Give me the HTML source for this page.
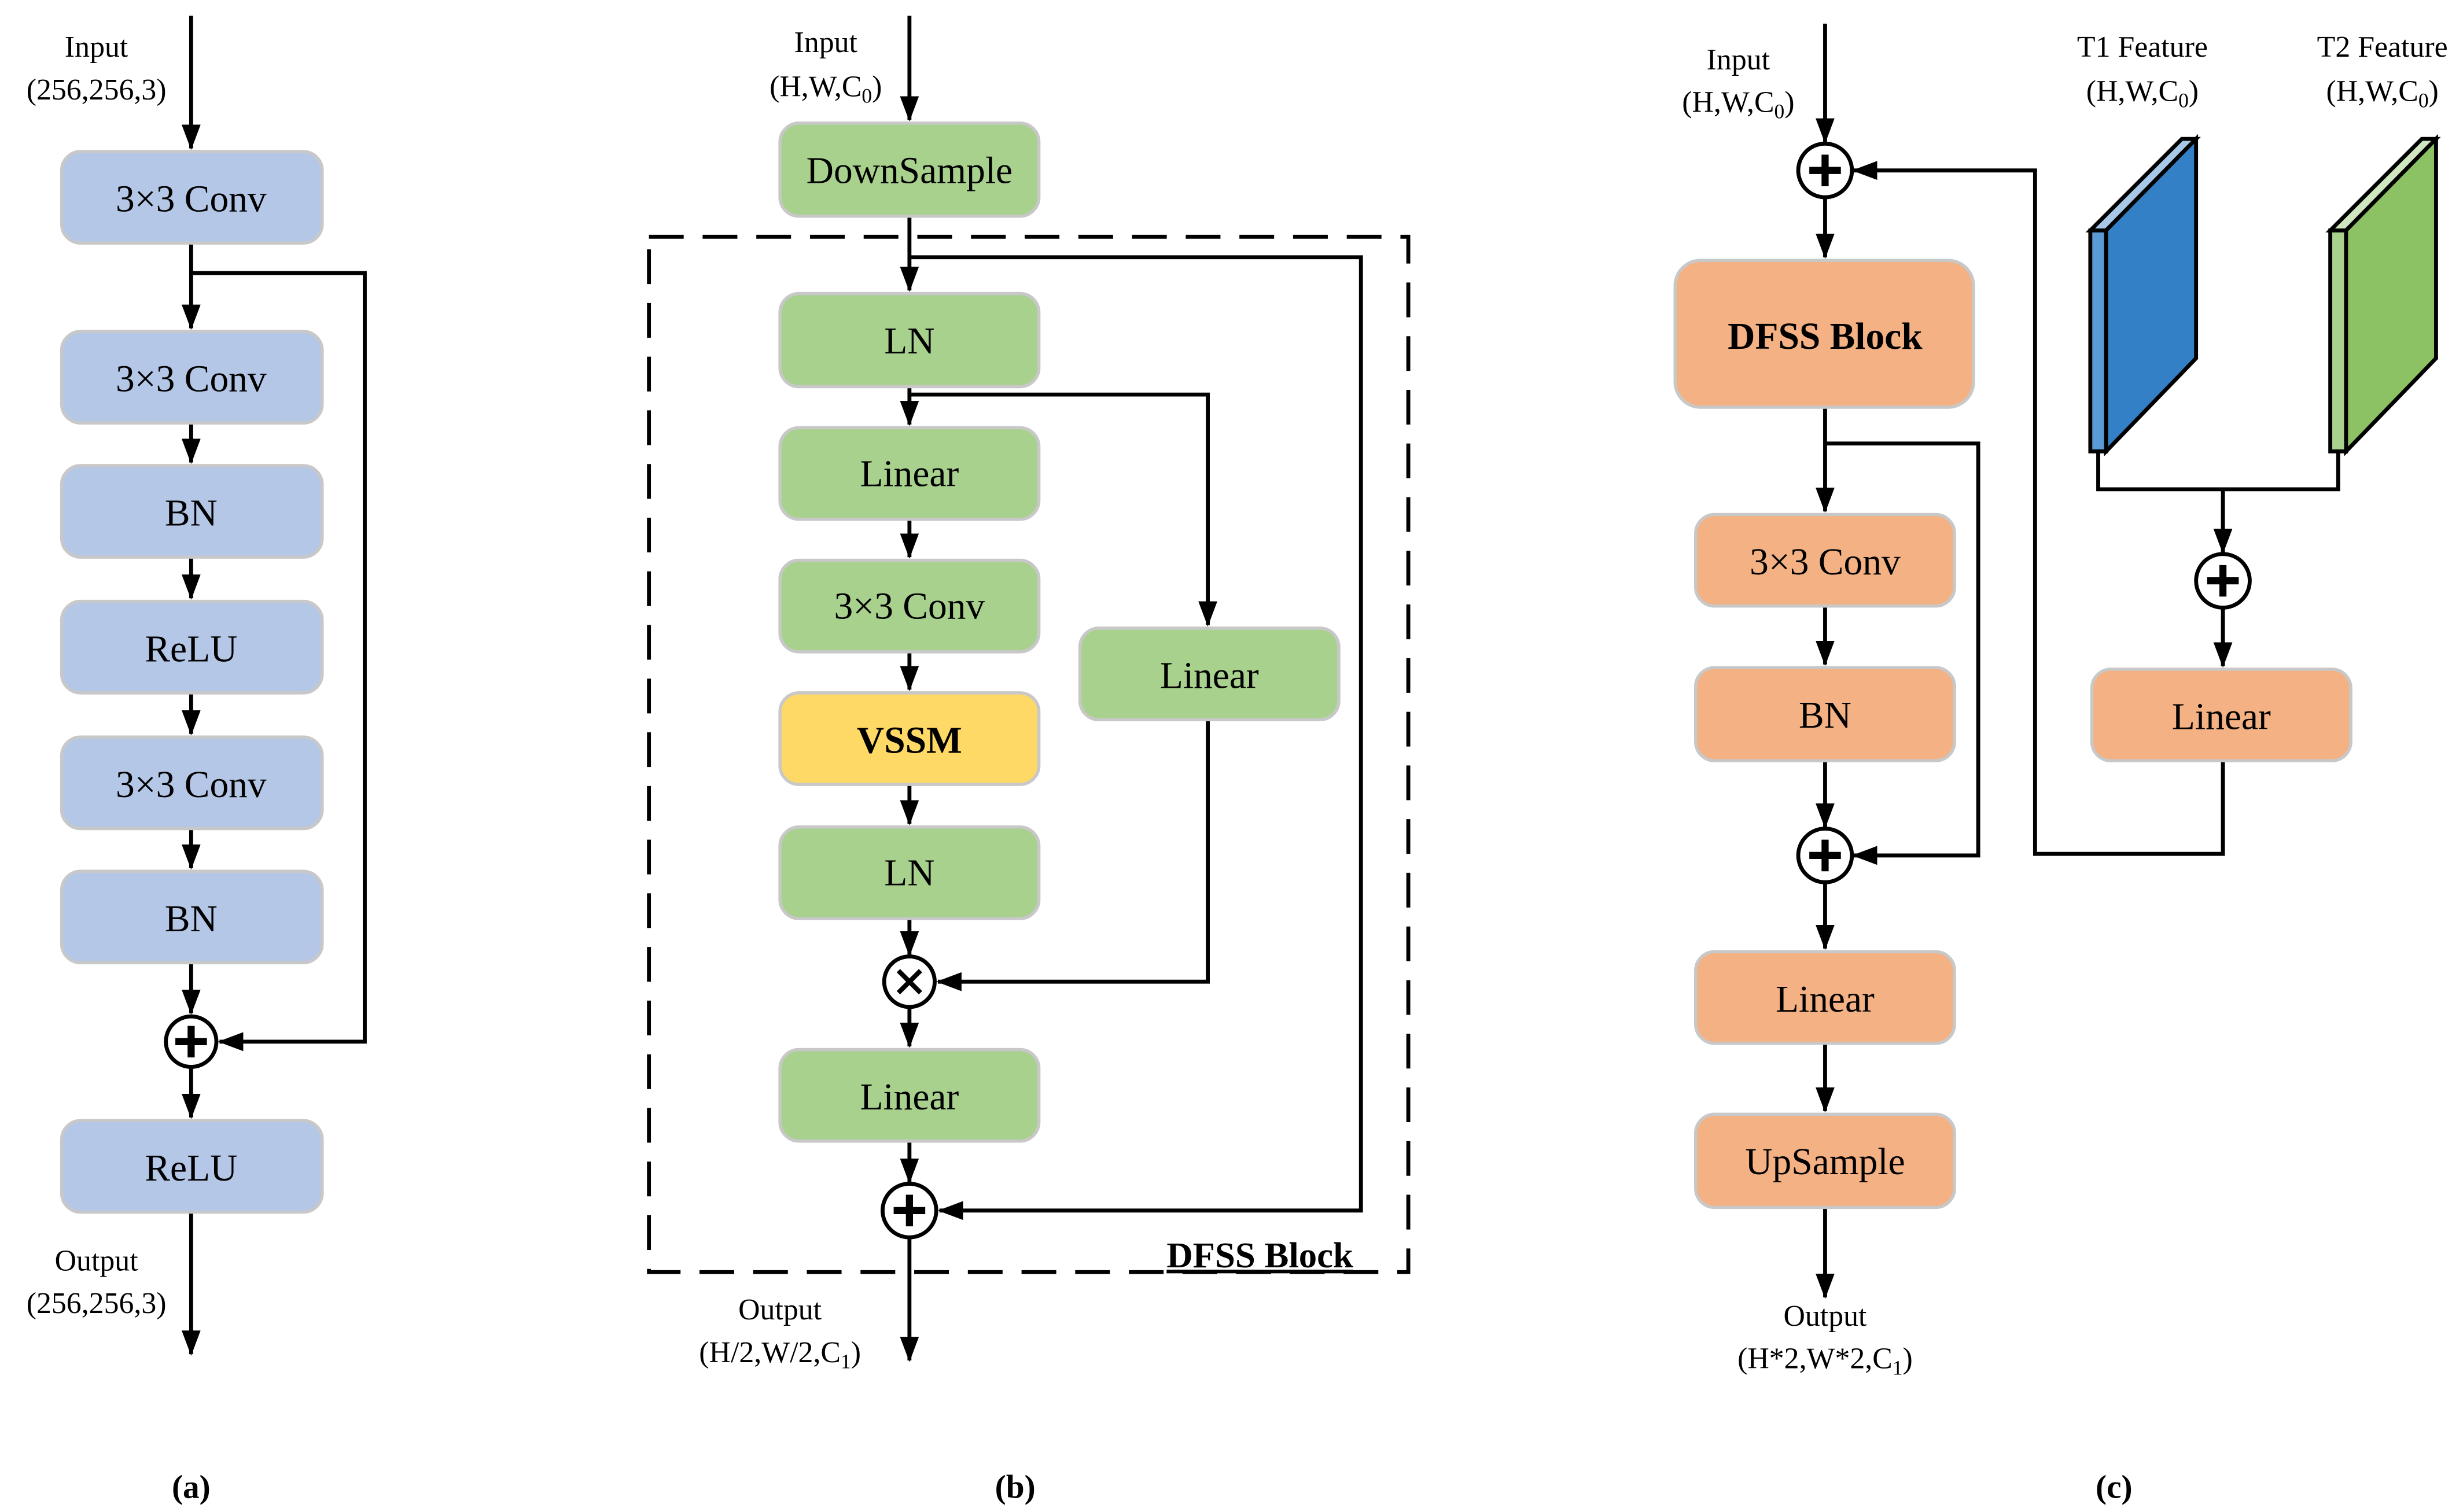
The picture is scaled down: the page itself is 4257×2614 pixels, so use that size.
<!DOCTYPE html>
<html><head><meta charset="utf-8"><style>
html,body{margin:0;padding:0;background:#fff;}
svg{display:block;}
svg text, svg tspan{font-family:"Liberation Serif","Times New Roman",serif !important;}
</style></head><body>
<svg width="4257" height="2614" viewBox="0 0 1560 958" xmlns="http://www.w3.org/2000/svg" font-family="Liberation Serif, serif">
<defs>
<marker id="a" markerWidth="16" markerHeight="12" refX="15" refY="6" orient="auto" markerUnits="userSpaceOnUse">
<path d="M0,0 L16,6 L0,12 Z" fill="#000"/></marker>
</defs>
<g stroke="#000" stroke-width="2.5" fill="none">
<line x1="121" y1="10" x2="121" y2="94" marker-end="url(#a)"/>
<line x1="121" y1="154" x2="121" y2="208" marker-end="url(#a)"/>
<line x1="121" y1="268" x2="121" y2="293" marker-end="url(#a)"/>
<line x1="121" y1="353" x2="121" y2="379" marker-end="url(#a)"/>
<line x1="121" y1="439" x2="121" y2="465" marker-end="url(#a)"/>
<line x1="121" y1="525" x2="121" y2="550" marker-end="url(#a)"/>
<line x1="121" y1="610" x2="121" y2="642" marker-end="url(#a)"/>
<line x1="121" y1="676" x2="121" y2="708" marker-end="url(#a)"/>
<line x1="121" y1="768" x2="121" y2="858" marker-end="url(#a)"/>
<polyline points="121,173 231,173 231,660 139,660" marker-end="url(#a)"/>
<line x1="576" y1="10" x2="576" y2="76" marker-end="url(#a)"/>
<line x1="576" y1="137" x2="576" y2="184" marker-end="url(#a)"/>
<line x1="576" y1="245" x2="576" y2="269" marker-end="url(#a)"/>
<line x1="576" y1="329" x2="576" y2="353" marker-end="url(#a)"/>
<line x1="576" y1="413" x2="576" y2="437" marker-end="url(#a)"/>
<line x1="576" y1="497" x2="576" y2="522" marker-end="url(#a)"/>
<line x1="576" y1="582" x2="576" y2="605" marker-end="url(#a)"/>
<line x1="576" y1="639" x2="576" y2="663" marker-end="url(#a)"/>
<line x1="576" y1="723" x2="576" y2="749" marker-end="url(#a)"/>
<line x1="576" y1="785" x2="576" y2="862" marker-end="url(#a)"/>
<polyline points="576,250 765,250 765,396" marker-end="url(#a)"/>
<polyline points="765,456 765,622 594,622" marker-end="url(#a)"/>
<polyline points="576,163 862,163 862,767 595,767" marker-end="url(#a)"/>
<rect x="411" y="150" width="481" height="656" stroke-dasharray="22,12"/>
<line x1="1156" y1="15" x2="1156" y2="90" marker-end="url(#a)"/>
<line x1="1156" y1="126" x2="1156" y2="163" marker-end="url(#a)"/>
<line x1="1156" y1="258" x2="1156" y2="324" marker-end="url(#a)"/>
<line x1="1156" y1="384" x2="1156" y2="421" marker-end="url(#a)"/>
<line x1="1156" y1="482" x2="1156" y2="524" marker-end="url(#a)"/>
<line x1="1156" y1="560" x2="1156" y2="601" marker-end="url(#a)"/>
<line x1="1156" y1="661" x2="1156" y2="704" marker-end="url(#a)"/>
<line x1="1156" y1="765" x2="1156" y2="822" marker-end="url(#a)"/>
<polyline points="1156,281 1253,281 1253,542 1174,542" marker-end="url(#a)"/>
<polyline points="1408,482 1408,541 1289,541 1289,108 1174,108" marker-end="url(#a)"/>
<polyline points="1329,286 1329,310 1481,310 1481,286"/>
<line x1="1408" y1="310" x2="1408" y2="350" marker-end="url(#a)"/>
<line x1="1408" y1="386" x2="1408" y2="422" marker-end="url(#a)"/>
</g>
<g stroke="#c8c8c8" stroke-width="2">
<rect x="39" y="96" width="165" height="58" rx="12" fill="#b4c7e7"/>
<rect x="39" y="210" width="165" height="58" rx="12" fill="#b4c7e7"/>
<rect x="39" y="295" width="165" height="58" rx="12" fill="#b4c7e7"/>
<rect x="39" y="381" width="165" height="58" rx="12" fill="#b4c7e7"/>
<rect x="39" y="467" width="165" height="58" rx="12" fill="#b4c7e7"/>
<rect x="39" y="552" width="165" height="58" rx="12" fill="#b4c7e7"/>
<rect x="39" y="710" width="165" height="58" rx="12" fill="#b4c7e7"/>
<rect x="494" y="78" width="164" height="59" rx="12" fill="#a9d18e"/>
<rect x="494" y="186" width="164" height="59" rx="12" fill="#a9d18e"/>
<rect x="494" y="271" width="164" height="58" rx="12" fill="#a9d18e"/>
<rect x="494" y="355" width="164" height="58" rx="12" fill="#a9d18e"/>
<rect x="494" y="439" width="164" height="58" rx="12" fill="#ffd966"/>
<rect x="494" y="524" width="164" height="58" rx="12" fill="#a9d18e"/>
<rect x="494" y="665" width="164" height="58" rx="12" fill="#a9d18e"/>
<rect x="684" y="398" width="164" height="58" rx="12" fill="#a9d18e"/>
<rect x="1061" y="165" width="189" height="93" rx="16" fill="#f4b183"/>
<rect x="1074" y="326" width="164" height="58" rx="12" fill="#f4b183"/>
<rect x="1074" y="423" width="164" height="59" rx="12" fill="#f4b183"/>
<rect x="1074" y="603" width="164" height="58" rx="12" fill="#f4b183"/>
<rect x="1074" y="706" width="164" height="59" rx="12" fill="#f4b183"/>
<rect x="1325" y="424" width="164" height="58" rx="12" fill="#f4b183"/>
</g>
<g stroke="#000" stroke-width="2.5" stroke-linejoin="miter">
<polygon points="1324,146 1382,88 1391,88 1334,146" fill="#a8c8e8"/>
<rect x="1324" y="146" width="10" height="140" fill="#5b9bd5"/>
<polygon points="1334,146 1391,88 1391,227 1334,286" fill="#3480c6"/>
<polygon points="1476,146 1534,88 1543,88 1486,146" fill="#d0e6c0"/>
<rect x="1476" y="146" width="10" height="140" fill="#a9d18e"/>
<polygon points="1486,146 1543,88 1543,227 1486,286" fill="#8cc164"/>
</g>
<g stroke="#000" stroke-width="2.5" fill="#fff">
<circle cx="121" cy="660" r="16"/>
<circle cx="576" cy="622" r="16"/>
<circle cx="576" cy="767" r="17"/>
<circle cx="1156" cy="108" r="17"/>
<circle cx="1156" cy="542" r="17"/>
<circle cx="1408" cy="368" r="17"/>
</g>
<g stroke="#000" stroke-width="4.5">
<path d="M111,660 h20 M121,650 v20"/>
<path d="M566,767 h20 M576,757 v20"/>
<path d="M1146,108 h20 M1156,98 v20"/>
<path d="M1146,542 h20 M1156,532 v20"/>
<path d="M1398,368 h20 M1408,358 v20"/>
<path d="M569,615 l14,14 M583,615 l-14,14" stroke-width="3"/>
</g>
<g font-size="24" text-anchor="middle" font-family="Liberation Serif, serif">
<text x="121" y="134">3×3 Conv</text>
<text x="121" y="248">3×3 Conv</text>
<text x="121" y="333">BN</text>
<text x="121" y="419">ReLU</text>
<text x="121" y="505">3×3 Conv</text>
<text x="121" y="590">BN</text>
<text x="121" y="748">ReLU</text>
<text x="576" y="116">DownSample</text>
<text x="576" y="224">LN</text>
<text x="576" y="308">Linear</text>
<text x="576" y="392">3×3 Conv</text>
<text x="576" y="477" font-weight="bold">VSSM</text>
<text x="576" y="561">LN</text>
<text x="576" y="703">Linear</text>
<text x="766" y="436">Linear</text>
<text x="1156" y="221" font-weight="bold">DFSS Block</text>
<text x="1156" y="364">3×3 Conv</text>
<text x="1156" y="461">BN</text>
<text x="1156" y="641">Linear</text>
<text x="1156" y="744">UpSample</text>
<text x="1407" y="462">Linear</text>
</g>
<text x="798" y="803" font-size="23" font-weight="bold" text-anchor="middle" text-decoration="underline" font-family="Liberation Serif, serif">DFSS Block</text>
<g font-size="19" text-anchor="middle" font-family="Liberation Serif, serif">
<text x="61" y="36">Input</text><text x="61" y="63">(256,256,3)</text>
<text x="61" y="805">Output</text><text x="61" y="832">(256,256,3)</text>
<text x="523" y="33">Input</text><text x="523" y="61">(H,W,C<tspan font-size="13" dy="4">0</tspan><tspan dy="-4">)</tspan></text>
<text x="494" y="836">Output</text><text x="494" y="863">(H/2,W/2,C<tspan font-size="13" dy="4">1</tspan><tspan dy="-4">)</tspan></text>
<text x="1101" y="44">Input</text><text x="1101" y="71">(H,W,C<tspan font-size="13" dy="4">0</tspan><tspan dy="-4">)</tspan></text>
<text x="1357" y="36">T1 Feature</text><text x="1357" y="64">(H,W,C<tspan font-size="13" dy="4">0</tspan><tspan dy="-4">)</tspan></text>
<text x="1509" y="36">T2 Feature</text><text x="1509" y="64">(H,W,C<tspan font-size="13" dy="4">0</tspan><tspan dy="-4">)</tspan></text>
<text x="1156" y="840">Output</text><text x="1156" y="867">(H*2,W*2,C<tspan font-size="13" dy="4">1</tspan><tspan dy="-4">)</tspan></text>
</g>
<g font-size="21" font-weight="bold" text-anchor="middle" font-family="Liberation Serif, serif">
<text x="121" y="949">(a)</text><text x="643" y="949">(b)</text><text x="1339" y="949">(c)</text>
</g>
</svg>
</body></html>
